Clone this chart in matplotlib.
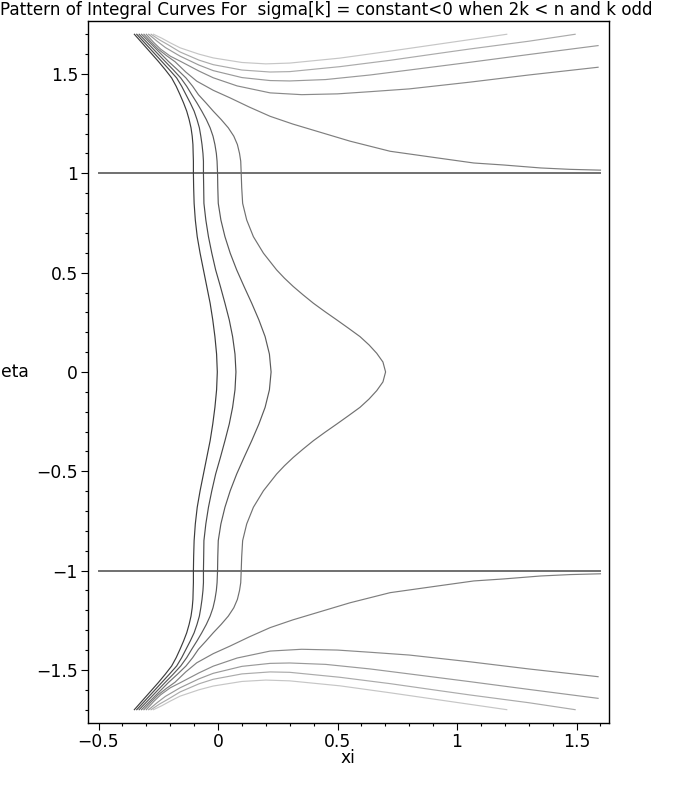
import matplotlib
matplotlib.use("Agg")
import matplotlib.pyplot as plt
from matplotlib.ticker import MultipleLocator, FuncFormatter

plt.rcParams['font.family'] = ['DejaVu Sans']

# curves that go round from the top-left bundle to the bottom-left bundle
eta_c = [1.700, 1.666, 1.632, 1.598, 1.564, 1.522, 1.480, 1.438, 1.396, 1.354,
         1.313, 1.271, 1.229, 1.187, 1.145, 1.100, 1.061, 1.000, 0.930, 0.849,
         0.765, 0.681, 0.598, 0.514, 0.430, 0.346, 0.262, 0.178, 0.090, 0.000,
         -0.090, -0.178, -0.262, -0.346, -0.430, -0.514, -0.598, -0.681, -0.765,
         -0.849, -0.930, -1.000, -1.061, -1.100, -1.145, -1.187, -1.229, -1.271,
         -1.313, -1.354, -1.396, -1.438, -1.480, -1.522, -1.564, -1.598, -1.632,
         -1.666, -1.700]
xi_a = [-0.350, -0.325, -0.300, -0.275, -0.250, -0.221, -0.194, -0.175, -0.159, -0.144,
        -0.131, -0.121, -0.113, -0.108, -0.105, -0.104, -0.103, -0.103, -0.102, -0.100,
        -0.095, -0.087, -0.075, -0.061, -0.047, -0.033, -0.022, -0.013, -0.006, -0.003,
        -0.006, -0.013, -0.022, -0.033, -0.047, -0.061, -0.075, -0.087, -0.095,
        -0.100, -0.102, -0.103, -0.103, -0.104, -0.105, -0.108, -0.113, -0.121,
        -0.131, -0.144, -0.159, -0.175, -0.194, -0.221, -0.250, -0.275, -0.300,
        -0.325, -0.350]
xi_b = [-0.340, -0.314, -0.288, -0.262, -0.236, -0.204, -0.173, -0.152, -0.134, -0.116,
        -0.100, -0.088, -0.078, -0.072, -0.067, -0.063, -0.061, -0.061, -0.060, -0.059,
        -0.051, -0.040, -0.026, -0.010, 0.010, 0.029, 0.047, 0.061, 0.071, 0.075,
        0.071, 0.061, 0.047, 0.029, 0.010, -0.010, -0.026, -0.040, -0.051,
        -0.059, -0.060, -0.061, -0.061, -0.063, -0.067, -0.072, -0.078, -0.088,
        -0.100, -0.116, -0.134, -0.152, -0.173, -0.204, -0.236, -0.262, -0.288,
        -0.314, -0.340]
xi_c = [-0.330, -0.303, -0.276, -0.249, -0.222, -0.188, -0.156, -0.131, -0.110, -0.088,
        -0.068, -0.049, -0.033, -0.021, -0.013, -0.007, -0.004, -0.002, -0.001, 0.001,
        0.012, 0.029, 0.051, 0.078, 0.109, 0.141, 0.171, 0.197, 0.215, 0.222,
        0.215, 0.197, 0.171, 0.141, 0.109, 0.078, 0.051, 0.029, 0.012,
        0.001, -0.001, -0.002, -0.004, -0.007, -0.013, -0.021, -0.033, -0.049,
        -0.068, -0.088, -0.110, -0.131, -0.156, -0.188, -0.222, -0.249, -0.276,
        -0.303, -0.330]

eta_d = [1.700, 1.666, 1.632, 1.598, 1.564, 1.522, 1.480, 1.438, 1.396, 1.354,
         1.313, 1.271, 1.229, 1.187, 1.145, 1.100, 1.061, 1.000, 0.930, 0.849,
         0.765, 0.681, 0.598, 0.514, 0.472, 0.430, 0.388, 0.346, 0.304, 0.262,
         0.220, 0.178, 0.136, 0.094, 0.050, 0.000,
         -0.050, -0.094, -0.136, -0.178, -0.220, -0.262, -0.304, -0.346, -0.388,
         -0.430, -0.472, -0.514, -0.598, -0.681, -0.765, -0.849, -0.930, -1.000,
         -1.061, -1.100, -1.145, -1.187, -1.229, -1.271, -1.313, -1.354, -1.396,
         -1.438, -1.480, -1.522, -1.564, -1.598, -1.632, -1.666, -1.700]
xi_d = [-0.320, -0.292, -0.264, -0.236, -0.208, -0.170, -0.134, -0.106, -0.082, -0.050,
        -0.020, 0.013, 0.043, 0.066, 0.081, 0.090, 0.095, 0.097, 0.099, 0.103,
        0.120, 0.148, 0.190, 0.245, 0.278, 0.315, 0.356, 0.399, 0.447, 0.497,
        0.546, 0.594, 0.632, 0.664, 0.690, 0.701,
        0.690, 0.664, 0.632, 0.594, 0.546, 0.497, 0.447, 0.399, 0.356,
        0.315, 0.278, 0.245, 0.190, 0.148, 0.120, 0.103, 0.099, 0.097,
        0.095, 0.090, 0.081, 0.066, 0.043, 0.013, -0.020, -0.050, -0.082,
        -0.106, -0.134, -0.170, -0.208, -0.236, -0.264, -0.292, -0.320]

# curve that runs towards eta = +/-1
xi_5 = [-0.310, -0.280, -0.250, -0.215, -0.180, -0.135, -0.089, -0.020, 0.050, 0.130,
        0.218, 0.313, 0.413, 0.552, 0.720, 0.915, 1.070, 1.194, 1.350, 1.473, 1.600]
eta_5_up = [1.700, 1.661, 1.625, 1.592, 1.562, 1.510, 1.464, 1.418, 1.380, 1.334,
            1.287, 1.248, 1.212, 1.162, 1.111, 1.078, 1.052, 1.042, 1.027, 1.020, 1.016]
eta_5_low = [-1.700, -1.661, -1.625, -1.592, -1.562, -1.510, -1.464, -1.418, -1.380, -1.334,
             -1.287, -1.248, -1.212, -1.162, -1.111, -1.078, -1.052, -1.042, -1.027, -1.020,
             -1.016]

# outer curves
xi_6 = [-0.300, -0.270, -0.240, -0.200, -0.159, -0.080, -0.020, 0.080, 0.218, 0.350,
        0.500, 0.636, 0.800, 1.054, 1.300, 1.590]
eta_6_up = [1.700, 1.660, 1.625, 1.590, 1.565, 1.515, 1.481, 1.440, 1.405, 1.396,
            1.400, 1.411, 1.425, 1.459, 1.495, 1.534]
eta_6_low = [-1.700, -1.660, -1.625, -1.590, -1.565, -1.515, -1.481, -1.440, -1.405, -1.396,
             -1.400, -1.411, -1.425, -1.459, -1.495, -1.534]

xi_7 = [-0.290, -0.255, -0.220, -0.159, -0.080, -0.020, 0.100, 0.218, 0.300, 0.450,
        0.636, 0.800, 1.054, 1.300, 1.590]
eta_7_up = [1.700, 1.665, 1.633, 1.590, 1.545, 1.517, 1.482, 1.467, 1.465, 1.472,
            1.495, 1.520, 1.559, 1.598, 1.643]
eta_7_low = [-1.700, -1.665, -1.633, -1.590, -1.545, -1.517, -1.482, -1.467, -1.465, -1.472,
             -1.495, -1.520, -1.559, -1.598, -1.643]

xi_8 = [-0.280, -0.245, -0.210, -0.159, -0.080, -0.020, 0.100, 0.218, 0.300, 0.510,
        0.720, 0.930, 1.054, 1.300, 1.494]
eta_8_up = [1.700, 1.672, 1.648, 1.611, 1.570, 1.547, 1.520, 1.510, 1.512, 1.537,
            1.569, 1.605, 1.626, 1.665, 1.700]
eta_8_low = [-1.700, -1.672, -1.648, -1.611, -1.570, -1.547, -1.520, -1.510, -1.512, -1.537,
             -1.569, -1.605, -1.626, -1.665, -1.700]

xi_9 = [-0.270, -0.235, -0.200, -0.159, -0.080, -0.020, 0.100, 0.200, 0.300, 0.510,
        0.720, 0.915, 1.208]
eta_9_up = [1.700, 1.680, 1.657, 1.632, 1.600, 1.581, 1.558, 1.551, 1.555, 1.580,
            1.615, 1.649, 1.700]
eta_9_low = [-1.700, -1.680, -1.657, -1.632, -1.600, -1.581, -1.558, -1.551, -1.555, -1.580,
             -1.615, -1.649, -1.700]

# the two straight solutions
xi_line = [-0.5, 1.6]
eta_line_up = [1.0, 1.0]
eta_line_low = [-1.0, -1.0]

fig = plt.figure(figsize=(6.79, 7.91), dpi=100)
ax = fig.add_axes([0.1303, 0.0860, 0.7667, 0.8875])

lw = 0.85
ax.plot(xi_line, eta_line_up, color='#707070', lw=1.4)
ax.plot(xi_line, eta_line_low, color='#707070', lw=1.4)
ax.plot(xi_a, eta_c, color='#3c3c3c', lw=lw)
ax.plot(xi_b, eta_c, color='#4a4a4a', lw=lw)
ax.plot(xi_c, eta_c, color='#5a5a5a', lw=lw)
ax.plot(xi_d, eta_d, color='#707070', lw=lw)
ax.plot(xi_5, eta_5_up, color='#7e7e7e', lw=lw)
ax.plot(xi_5, eta_5_low, color='#7e7e7e', lw=lw)
ax.plot(xi_6, eta_6_up, color='#8a8a8a', lw=lw)
ax.plot(xi_6, eta_6_low, color='#8a8a8a', lw=lw)
ax.plot(xi_7, eta_7_up, color='#9a9a9a', lw=lw)
ax.plot(xi_7, eta_7_low, color='#9a9a9a', lw=lw)
ax.plot(xi_8, eta_8_up, color='#ababab', lw=lw)
ax.plot(xi_8, eta_8_low, color='#ababab', lw=lw)
ax.plot(xi_9, eta_9_up, color='#c6c6c6', lw=lw)
ax.plot(xi_9, eta_9_low, color='#c6c6c6', lw=lw)

ax.set_xlim(-0.542, 1.636)
ax.set_ylim(-1.767, 1.767)

fmt = FuncFormatter(lambda v, p: ('%g' % round(v, 2)).replace('-', '\u2212'))
ax.xaxis.set_major_locator(MultipleLocator(0.5))
ax.xaxis.set_minor_locator(MultipleLocator(0.1))
ax.yaxis.set_major_locator(MultipleLocator(0.5))
ax.yaxis.set_minor_locator(MultipleLocator(0.1))
ax.xaxis.set_major_formatter(fmt)
ax.yaxis.set_major_formatter(fmt)
ax.tick_params(which='both', direction='out', top=False, right=False,
               labelsize=12.3, width=0.8)
ax.tick_params(which='major', length=5, pad=2.5)
ax.tick_params(which='minor', length=2.5)
for s in ax.spines.values():
    s.set_linewidth(1.0)

fig.text(1 / 679, 1 - 372 / 791, 'eta', ha='left', va='center', fontsize=12.3)
fig.text(348 / 679, 1 - 758 / 791, 'xi', ha='center', va='center', fontsize=12.3)
fig.text(653 / 679, 1 - 15 / 791,
         'Pattern of Integral Curves For  sigma[k] = constant<0 when 2k < n and k odd',
         ha='right', va='baseline', fontsize=12.1)

fig.savefig('out.png', dpi=100)
